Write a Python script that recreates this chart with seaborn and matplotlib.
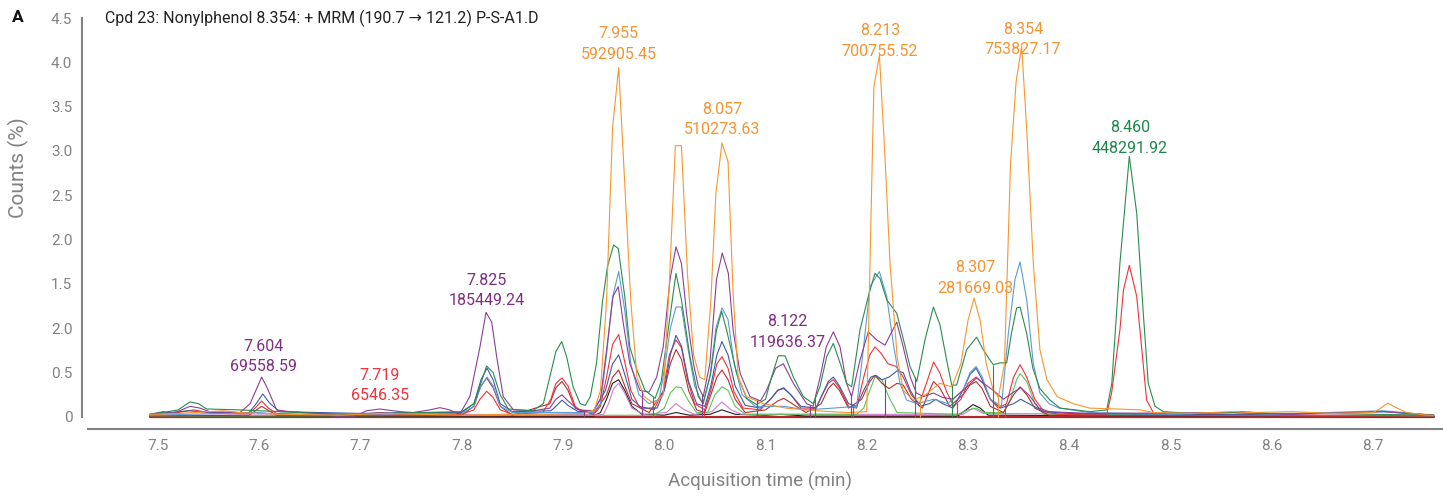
import numpy as np
import pandas as pd
import matplotlib
matplotlib.use("Agg")
import matplotlib.pyplot as plt
import seaborn as sns

# ---------------- data: MRM chromatogram traces (time in min, counts in %) ----------------
orange = [(7.492, .03), (7.52, .04), (7.55, .06), (7.565, .07), (7.58, .05), (7.62, .03), (7.68, .02),
          (7.72, .04), (7.76, .03), (7.80, .02), (7.84, .03), (7.88, .03), (7.92, .04), (7.931, .08),
          (7.937, .30), (7.943, 1.30), (7.949, 3.27), (7.955, 3.94), (7.961, 2.63), (7.967, 1.30),
          (7.973, .45), (7.980, .23), (7.990, .15), (7.999, .25), (8.005, 1.50), (8.011, 3.06),
          (8.017, 3.06), (8.023, 1.60), (8.029, .70), (8.035, .45), (8.040, .42), (8.046, 1.30),
          (8.051, 2.52), (8.057, 3.09), (8.063, 2.88), (8.068, 1.40), (8.073, .45), (8.081, .23),
          (8.098, .15), (8.12, .10), (8.15, .07), (8.18, .05), (8.200, .06), (8.207, 3.72),
          (8.2125, 4.08), (8.218, 2.93), (8.223, 1.73), (8.230, .68), (8.236, .30), (8.246, .19),
          (8.258, .25), (8.272, .38), (8.284, .34), (8.293, .60), (8.300, 1.09), (8.306, 1.34),
          (8.312, 1.09), (8.318, .60), (8.325, .30), (8.330, .22), (8.336, .60), (8.342, 2.86),
          (8.3475, 3.78), (8.353, 4.18), (8.358, 3.24), (8.3645, 1.73), (8.371, .76), (8.378, .42),
          (8.388, .23), (8.404, .15), (8.420, .10), (8.447, .09), (8.470, .08), (8.483, .05),
          (8.52, .04), (8.56, .06), (8.58, .05), (8.62, .06), (8.66, .04), (8.70, .05), (8.705, .08),
          (8.7145, .155), (8.724, .10), (8.733, .05), (8.753, .02), (8.76, .02)]

green = [(7.492, .03), (7.51, .06), (7.52, .08), (7.5316, .17), (7.540, .15), (7.548, .09), (7.58, .08),
         (7.60, .07), (7.62, .06), (7.66, .04), (7.69, .03), (7.72, .04), (7.76, .05), (7.80, .06),
         (7.812, .15), (7.818, .35), (7.8246, .575), (7.831, .50), (7.838, .25), (7.846, .09),
         (7.87, .07), (7.8806, .15), (7.887, .45), (7.893, .74), (7.8987, .85), (7.9036, .68),
         (7.910, .34), (7.917, .15), (7.922, .13), (7.927, .23), (7.933, .60), (7.939, 1.30),
         (7.944, 1.70), (7.950, 1.94), (7.9546, 1.90), (7.961, 1.36), (7.966, .79), (7.973, .53),
         (7.981, .30), (7.991, .21), (7.997, .40), (8.0035, .95), (8.0116, 1.62), (8.017, 1.32),
         (8.0254, .68), (8.0336, .23), (8.0385, .15), (8.046, .50), (8.0516, .98), (8.0567, 1.19),
         (8.0616, .98), (8.0716, .49), (8.0814, .21), (8.0913, .14), (8.100, .20), (8.106, .45),
         (8.1126, .69), (8.1193, .69), (8.1275, .45), (8.1373, .23), (8.1472, .15), (8.154, .35),
         (8.1604, .68), (8.167, .83), (8.1736, .61), (8.1802, .38), (8.1851, .34), (8.1933, .98),
         (8.2015, 1.36), (8.2081, 1.62), (8.2131, 1.56), (8.2198, 1.32), (8.2296, 1.17),
         (8.2363, .87), (8.2427, .57), (8.2494, .40), (8.2575, .87), (8.2658, 1.24), (8.2723, 1.04),
         (8.2789, .64), (8.2839, .36), (8.2888, .36), (8.2987, .76), (8.3085, .90), (8.315, .76),
         (8.3217, .64), (8.325, .59), (8.3316, .61), (8.3382, .61), (8.343, .95), (8.348, 1.23),
         (8.3514, 1.24), (8.358, .94), (8.364, .55), (8.371, .32), (8.381, .19), (8.391, .10),
         (8.4205, .06), (8.437, .08), (8.442, .38), (8.450, 1.73), (8.4593, 2.94), (8.4666, 2.30),
         (8.4731, 1.17), (8.478, .38), (8.4847, .12), (8.493, .06), (8.52, .04), (8.56, .05),
         (8.57, .06), (8.60, .04), (8.65, .04), (8.70, .03), (8.76, .02)]

purple = [(7.492, .03), (7.505, .06), (7.515, .04), (7.5316, .12), (7.5415, .10), (7.551, .06),
          (7.581, .05), (7.591, .15), (7.6024, .45), (7.6074, .34), (7.6172, .08), (7.63, .06),
          (7.66, .04), (7.68, .00), (7.693, .00), (7.706, .07), (7.719, .09), (7.739, .06),
          (7.752, .05), (7.7686, .08), (7.7785, .105), (7.788, .08), (7.798, .03), (7.808, .23),
          (7.818, .79), (7.824, 1.18), (7.8296, 1.07), (7.8345, .68), (7.841, .23), (7.851, .08),
          (7.8707, .07), (7.887, .10), (7.893, .20), (7.899, .25), (7.905, .18), (7.915, .08),
          (7.93, .07), (7.937, .20), (7.943, .75), (7.9494, 1.36), (7.9546, 1.47), (7.9595, 1.06),
          (7.966, .60), (7.976, .30), (7.985, .28), (7.9925, .45), (7.999, .79), (8.0057, 1.55),
          (8.0116, 1.92), (8.017, 1.73), (8.022, 1.17), (8.0289, .60), (8.0337, .34), (8.0385, .23),
          (8.045, .60), (8.0516, 1.55), (8.0573, 1.85), (8.0633, 1.62), (8.068, .98), (8.075, .49),
          (8.0847, .23), (8.095, .18), (8.101, .30), (8.110, .55), (8.1176, .60), (8.1275, .38),
          (8.1406, .15), (8.147, .12), (8.154, .45), (8.160, .79), (8.167, .96), (8.1736, .79),
          (8.180, .38), (8.185, .23), (8.1933, .64), (8.2015, .96), (8.2097, .87), (8.218, .81),
          (8.2296, 1.07), (8.236, .79), (8.243, .45), (8.249, .27), (8.256, .23), (8.2658, .27),
          (8.275, .22), (8.285, .20), (8.295, .30), (8.3085, .44), (8.315, .38), (8.325, .30),
          (8.335, .20), (8.345, .28), (8.352, .33), (8.36, .25), (8.37, .10), (8.38, .06),
          (8.42, .04), (8.56, .05), (8.62, .03), (8.71, .06), (8.76, .02)]

red = [(7.492, .02), (7.52, .05), (7.535, .08), (7.55, .05), (7.59, .04), (7.596, .10), (7.6024, .18),
       (7.609, .10), (7.617, .04), (7.64, .03), (7.70, .03), (7.719, .05), (7.74, .03), (7.80, .03),
       (7.812, .08), (7.818, .20), (7.8246, .29), (7.831, .22), (7.838, .08), (7.85, .03), (7.88, .05),
       (7.888, .20), (7.893, .38), (7.899, .44), (7.905, .35), (7.912, .12), (7.92, .05), (7.932, .05),
       (7.937, .12), (7.943, .45), (7.949, .82), (7.955, .93), (7.961, .62), (7.967, .30), (7.975, .12),
       (7.99, .08), (7.999, .30), (8.005, .70), (8.0116, .87), (8.017, .78), (8.023, .42), (8.030, .15),
       (8.040, .08), (8.046, .30), (8.052, .60), (8.057, .68), (8.063, .55), (8.069, .28), (8.078, .10),
       (8.095, .08), (8.105, .20), (8.112, .30), (8.118, .32), (8.125, .25), (8.135, .10), (8.150, .10),
       (8.156, .25), (8.162, .38), (8.167, .42), (8.173, .33), (8.182, .12), (8.190, .10), (8.197, .45),
       (8.203, .70), (8.2081, .79), (8.214, .72), (8.221, .60), (8.229, .57), (8.236, .45), (8.244, .25),
       (8.252, .15), (8.258, .35), (8.266, .62), (8.272, .50), (8.279, .28), (8.286, .12), (8.293, .20),
       (8.300, .38), (8.308, .45), (8.315, .38), (8.322, .20), (8.330, .10), (8.338, .15), (8.345, .45),
       (8.3514, .59), (8.358, .45), (8.366, .20), (8.375, .06), (8.39, .03), (8.437, .03), (8.4418, .27),
       (8.450, .98), (8.4535, 1.43), (8.4593, 1.71), (8.4666, 1.36), (8.4714, .79), (8.4764, .19),
       (8.483, .05), (8.50, .03), (8.60, .02), (8.76, .02)]

dark_red = [(7.492, .01), (7.59, .02), (7.6024, .12), (7.617, .02), (7.80, .02), (7.812, .12), (7.818, .33),
            (7.8246, .44), (7.831, .33), (7.838, .12), (7.85, .02), (7.887, .15), (7.893, .33),
            (7.899, .40), (7.905, .30), (7.912, .10), (7.93, .03), (7.943, .25), (7.949, .45),
            (7.955, .53), (7.961, .35), (7.968, .15), (7.985, .05), (8.000, .30), (8.006, .60),
            (8.0116, .76), (8.017, .65), (8.024, .30), (8.032, .08), (8.040, .05), (8.046, .25),
            (8.052, .45), (8.057, .53), (8.063, .42), (8.070, .20), (8.08, .05), (8.100, .08),
            (8.112, .18), (8.118, .21), (8.125, .16), (8.14, .05), (8.155, .15), (8.162, .32),
            (8.167, .38), (8.173, .30), (8.182, .10), (8.195, .20), (8.203, .40), (8.2081, .47),
            (8.215, .38), (8.222, .32), (8.230, .38), (8.236, .36), (8.244, .20), (8.255, .10),
            (8.262, .30), (8.266, .40), (8.272, .33), (8.282, .12), (8.295, .25), (8.302, .36),
            (8.308, .40), (8.314, .32), (8.322, .12), (8.335, .05), (8.345, .25), (8.3514, .34),
            (8.358, .25), (8.366, .10), (8.38, .02), (8.76, .00)]

blue = [(7.492, .03), (7.53, .07), (7.55, .05), (7.59, .05), (7.597, .15), (7.6035, .26), (7.610, .16),
        (7.62, .06), (7.70, .04), (7.75, .05), (7.80, .05), (7.812, .15), (7.819, .42), (7.825, .55),
        (7.831, .42), (7.838, .15), (7.85, .06), (7.888, .07), (7.893, .12), (7.899, .19), (7.905, .13),
        (7.915, .06), (7.93, .07), (7.942, .30), (7.949, .60), (7.955, .70), (7.961, .48), (7.968, .20),
        (7.978, .10), (7.993, .10), (8.000, .30), (8.006, .70), (8.0116, .92), (8.017, .80), (8.024, .40),
        (8.032, .15), (8.040, .12), (8.046, .35), (8.052, .70), (8.057, .85), (8.063, .70), (8.070, .35),
        (8.080, .13), (8.095, .10), (8.105, .20), (8.112, .30), (8.118, .33), (8.125, .25), (8.135, .12),
        (8.150, .10), (8.156, .25), (8.162, .40), (8.167, .45), (8.173, .35), (8.182, .15), (8.190, .12),
        (8.197, .30), (8.204, .45), (8.209, .47), (8.215, .42), (8.222, .45), (8.230, .52), (8.236, .50),
        (8.243, .30), (8.252, .12), (8.262, .15), (8.268, .20), (8.275, .15), (8.285, .10), (8.295, .30),
        (8.302, .48), (8.308, .55), (8.314, .42), (8.322, .20), (8.332, .10), (8.345, .15), (8.352, .20),
        (8.36, .15), (8.375, .06), (8.40, .04), (8.50, .03), (8.60, .03), (8.71, .06), (8.76, .02)]

light_blue = [(7.492, .02), (7.60, .05), (7.62, .03), (7.80, .04), (7.812, .12), (7.819, .35), (7.825, .45),
              (7.831, .35), (7.838, .12), (7.85, .05), (7.93, .05), (7.937, .15), (7.943, .70),
              (7.949, 1.35), (7.955, 1.64), (7.961, 1.20), (7.967, .60), (7.975, .25), (7.985, .15),
              (7.995, .20), (8.001, .60), (8.006, 1.00), (8.0116, 1.24), (8.017, 1.24), (8.023, .80),
              (8.030, .35), (8.038, .15), (8.045, .45), (8.051, 1.00), (8.057, 1.23), (8.063, 1.10),
              (8.069, .60), (8.077, .25), (8.090, .12), (8.118, .12), (8.14, .08), (8.167, .10),
              (8.19, .12), (8.1966, .76), (8.2032, 1.47), (8.2124, 1.64), (8.2197, 1.36), (8.2262, .83),
              (8.2328, .38), (8.2394, .19), (8.25, .15), (8.266, .20), (8.28, .15), (8.295, .30),
              (8.302, .50), (8.308, .57), (8.314, .45), (8.322, .20), (8.333, .12), (8.3398, .94),
              (8.3464, 1.55), (8.3514, 1.75), (8.358, 1.32), (8.3645, .60), (8.371, .27), (8.38, .15),
              (8.39, .10), (8.42, .05), (8.50, .03), (8.56, .05), (8.60, .03), (8.71, .07), (8.76, .02)]

black = [(7.492, .01), (7.93, .01), (7.937, .05), (7.943, .20), (7.949, .38), (7.955, .42), (7.961, .30),
         (7.968, .12), (7.978, .03), (8.000, .02), (8.0116, .05), (8.025, .02), (8.045, .03), (8.057, .08),
         (8.07, .03), (8.10, .02), (8.115, .03), (8.14, .01), (8.29, .01), (8.298, .08), (8.305, .14),
         (8.312, .10), (8.32, .02), (8.76, .00)]

light_green = [(7.492, .01), (7.99, .02), (8.000, .10), (8.006, .27), (8.0116, .34), (8.017, .33),
               (8.024, .18), (8.032, .05), (8.043, .05), (8.050, .25), (8.057, .34), (8.063, .30),
               (8.070, .12), (8.08, .03), (8.19, .03), (8.197, .10), (8.203, .30), (8.2081, .45),
               (8.215, .42), (8.222, .22), (8.230, .05), (8.29, .03), (8.300, .08), (8.308, .10),
               (8.316, .05), (8.335, .05), (8.342, .20), (8.348, .42), (8.3514, .49), (8.358, .40),
               (8.366, .15), (8.375, .03), (8.76, .01)]

pink = [(7.492, .02), (7.94, .03), (7.945, .15), (7.950, .32), (7.955, .38), (7.961, .27), (7.968, .10),
        (7.98, .03), (8.002, .05), (8.0116, .15), (8.02, .08), (8.03, .03), (8.047, .06), (8.057, .17),
        (8.066, .08), (8.076, .03), (8.295, .03), (8.305, .10), (8.315, .04), (8.76, .01)]

baseline = [(7.492, .0), (8.76, .0)]

# labelled peaks: retention time, area, trace colour
peak_times = [7.604, 7.719, 7.825, 7.955, 8.057, 8.122, 8.213, 8.307, 8.354, 8.460]
peak_areas = ["69558.59", "6546.35", "185449.24", "592905.45", "510273.63",
              "119636.37", "700755.52", "281669.03", "753827.17", "448291.92"]
peak_traces = ["purple", "red", "purple", "orange", "orange",
               "purple", "orange", "orange", "orange", "green"]

# integration boundary ticks: time and trace they belong to
boundary_times = [7.9207, 7.9777, 7.989, 8.037, 8.039, 8.092, 8.144, 8.149, 8.184, 8.186,
                  8.218, 8.2476, 8.2526, 8.284, 8.289, 8.325, 8.330, 8.3365]
boundary_traces = ["purple", "purple", "green", "purple", "red", "purple", "purple", "green", "purple", "red",
                   "blue", "green", "orange", "green", "red", "green", "orange", "red"]

x_ticks = [7.5, 7.6, 7.7, 7.8, 7.9, 8.0, 8.1, 8.2, 8.3, 8.4, 8.5, 8.6, 8.7]
y_ticks = [0, 0.5, 1.0, 1.5, 2.0, 2.5, 3.0, 3.5, 4.0, 4.5]
y_tick_labels = ["0", "0.5", "2.0", "1.5", "2.0", "2.5", "3.0", "3.5", "4.0", "4.5"]

title = "Cpd 23: Nonylphenol 8.354: + MRM (190.7 \u2192 121.2) P-S-A1.D"

# ---------------- styling ----------------
traces = {
    "baseline": baseline, "black": black, "pink": pink, "light_green": light_green,
    "dark_red": dark_red, "red": red, "blue": blue, "light_blue": light_blue,
    "purple": purple, "green": green, "orange": orange,
}
line_colors = {
    "baseline": "#B0282C", "black": "#222222", "pink": "#D27BD2", "light_green": "#62C05E",
    "dark_red": "#B5312F", "red": "#EE3338", "blue": "#3E5BA9", "light_blue": "#5B9BD5",
    "purple": "#8E3E91", "green": "#2A8C4E", "orange": "#F7962E",
}
label_colors = {"purple": "#7F2E83", "red": "#F0323C", "orange": "#F39432", "green": "#1F874A"}
axis_gray = "#808285"

sns.set_theme(style="white")
plt.rcParams["font.family"] = ["Roboto", "DejaVu Sans"]

rows = []
for name, pts in traces.items():
    for t, v in pts:
        rows.append((name, t, v))
df = pd.DataFrame(rows, columns=["trace", "time", "counts"])

W, H = 1443, 496
fig = plt.figure(figsize=(W / 100, H / 100), dpi=100)
ax_left, ax_right, ax_top, ax_bottom = 88, 1443, 18, 421.4
ax = fig.add_axes([ax_left / W, 1 - ax_bottom / H, (ax_right - ax_left) / W, (ax_bottom - ax_top) / H])

sns.lineplot(data=df, x="time", y="counts", hue="trace", hue_order=list(traces.keys()),
             palette=line_colors, estimator=None, legend=False, linewidth=0.8, ax=ax)
for line in ax.lines:
    if np.allclose(line.get_ydata(), 0):
        line.set_linewidth(1.6)

# integration boundary ticks
for t, name in zip(boundary_times, boundary_traces):
    pts = np.array(traces[name])
    top = np.interp(t, pts[:, 0], pts[:, 1])
    ax.vlines(t, 0, top, color=line_colors[name], linewidth=0.8)

# peak labels
for t, area, name in zip(peak_times, peak_areas, peak_traces):
    tops = []
    for pts in traces.values():
        arr = np.array(pts)
        tops.append(max(np.interp(t + d, arr[:, 0], arr[:, 1]) for d in (-0.005, 0, 0.005)))
    ax.annotate(f"{t:.3f}\n{area}", xy=(t, max(tops)), xytext=(0, 6), textcoords="offset pixels",
                ha="center", va="bottom", fontsize=11.5, color=label_colors[name], linespacing=1.45)

ax.set_xlim(7.4309, 8.7691)
ax.set_ylim(-0.05, 4.5)
ax.set_xticks(x_ticks)
ax.set_xticklabels([f"{x:.1f}" for x in x_ticks])
ax.set_yticks(y_ticks)
ax.set_yticklabels(y_tick_labels)

for side in ("top", "right"):
    ax.spines[side].set_visible(False)
for side in ("left", "bottom"):
    ax.spines[side].set_color(axis_gray)
    ax.spines[side].set_linewidth(1.5)
ax.spines["left"].set_position(("outward", 4.3))
ax.spines["left"].set_bounds(0, 4.5)
ax.spines["bottom"].set_position(("outward", 5.5))
ax.tick_params(axis="both", direction="out", length=4.5, width=1.3, color=axis_gray,
               labelcolor=axis_gray, labelsize=11, pad=2.5)
ax.grid(False)

ax.set_xlabel("Acquisition time (min)", fontsize=13.5, color=axis_gray)
ax.xaxis.label.set_va("center")
ax.xaxis.set_label_coords((760 - ax_left) / (ax_right - ax_left), (ax_bottom - 481) / (ax_bottom - ax_top))
ax.set_ylabel("Counts (%)", fontsize=15, color=axis_gray)
ax.yaxis.label.set_va("center")
ax.yaxis.set_label_coords((18 - ax_left) / (ax_right - ax_left), (ax_bottom - 168) / (ax_bottom - ax_top))

fig.text(18 / W, 1 - 18 / H, "A", fontsize=12.5, fontweight="bold", color="#111111", ha="center", va="center")
fig.text(105 / W, 1 - 18 / H, title, fontsize=11.5, color="#222222", ha="left", va="center",
         family=["Roboto", "DejaVu Sans"])

fig.savefig("out.png", dpi=100)
